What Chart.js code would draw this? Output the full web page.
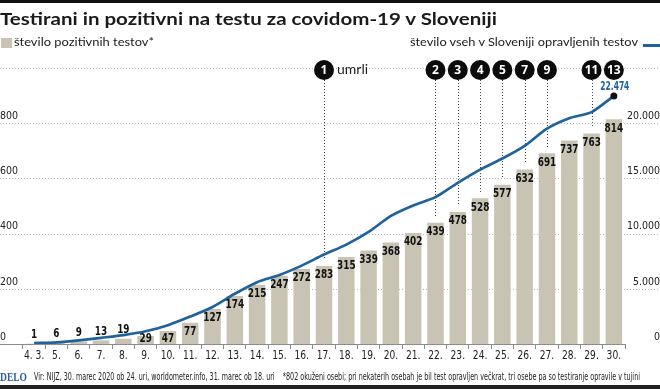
<!DOCTYPE html>
<html>
<head>
<meta charset="utf-8">
<script src="https://cdn.jsdelivr.net/npm/chart.js@4.4.1/dist/chart.umd.min.js"></script>
<style>
body { margin: 0; background: #fff; }
#wrap { position: relative; width: 660px; height: 389px; overflow: hidden; color: #1a1a1a; font-family: Lato, "Open Sans", sans-serif; }
#wrap canvas { position: absolute; left: 0; top: 0; }
.txt { position: absolute; white-space: nowrap; transform-origin: 0 0; z-index: 2; }
#topbar { position: absolute; left: 0; top: 0; width: 660px; height: 3px; background: #111; }
#botbar { position: absolute; left: 0; top: 385px; width: 660px; height: 4px; background: #222; }
#title { left: 0; top: 10px; font-size: 17px; line-height: 17px; font-weight: 700; }
#legBars { left: 14px; top: 36px; font-size: 12px; line-height: 12px; }
#legLine { left: 410px; top: 36px; font-size: 12px; line-height: 12px; }
#swatch { position: absolute; left: 1px; top: 38px; width: 11px; height: 10px; background: #c9c3b3; }
#dash { position: absolute; left: 643px; top: 44px; width: 17px; height: 3px; background: #20629b; }
#delo { left: 0; top: 371px; font-family: "Liberation Serif", "DejaVu Serif", serif; font-weight: 700; font-size: 12px; line-height: 12px; color: #2d5e9e; }
#source { left: 34px; top: 372px; font-family: "Liberation Sans Narrow", "DejaVu Sans Condensed", sans-serif; font-size: 10px; line-height: 10px; color: #222; }
</style>
</head>
<body>
<div id="wrap">
  <canvas id="chart" width="660" height="389"></canvas>
  <div id="topbar"></div>
  <div id="botbar"></div>
  <div id="title" class="txt">Testirani in pozitivni na testu za covidom-19 v Sloveniji</div>
  <div id="swatch"></div>
  <div id="legBars" class="txt">število pozitivnih testov*</div>
  <div id="legLine" class="txt">število vseh v Sloveniji opravljenih testov</div>
  <div id="dash"></div>
  <div id="delo" class="txt">DELO</div>
  <div id="source" class="txt">Vir: NIJZ, 30. marec 2020 ob 24. uri, worldometer.info, 31. marec ob 18. uri &nbsp;&nbsp; *802 okuženi osebi; pri nekaterih osebah je bil test opravljen večkrat, tri osebe pa so testiranje opravile v tujini</div>
</div>
<script>
var days = ['4. 3.', '5.', '6.', '7.', '8.', '9.', '10.', '11.', '12.', '13.', '14.', '15.', '16.', '17.',
    '18.', '19.', '20.', '21.', '22.', '23.', '24.', '25.', '26.', '27.', '28.', '29.', '30.'];
var positiveTests = [1, 6, 9, 13, 19, 29, 47, 77, 127, 174, 215, 247, 272, 283,
    315, 339, 368, 402, 439, 478, 528, 577, 632, 691, 737, 763, 814];
var allTests = [80, 150, 330, 560, 800, 1150, 1700, 2480, 3350, 4550, 5600, 6250, 7100, 8100,
    9000, 10150, 11600, 12550, 13300, 14600, 15800, 16800, 17950, 19500, 20450, 21000, 22474];
var deathDays = ['17.', '22.', '23.', '24.', '25.', '26.', '27.', '29.', '30.'];
var deathCounts = [1, 2, 3, 4, 5, 7, 9, 11, 13];
var leftMax = 1000, leftStep = 200;
var rightMax = 25000, rightStep = 5000;

var barColor = '#c9c3b3';
var lineColor = '#20629b';
var narrow = '"Liberation Sans Narrow", "DejaVu Sans Condensed", sans-serif';

// stretch/squeeze html text to the width it has in the picture
function fitWidth(id, w) {
    var el = document.getElementById(id);
    var natural = el.getBoundingClientRect().width;
    el.style.transform = 'scaleX(' + (w / natural) + ')';
}
fitWidth('title', 497);
fitWidth('legBars', 140);
fitWidth('legLine', 228);
fitWidth('delo', 27);
fitWidth('source', 606);

function thousands(v) {
    return String(v).replace(/\B(?=(\d{3})+(?!\d))/g, '.');
}

// condensed text: squeeze so that `sample` comes out `sampleWidth` px wide
function squeezedText(ctx, text, x, y, sample, sampleWidth) {
    var k = sampleWidth / ctx.measureText(sample).width;
    ctx.save();
    ctx.translate(x, y);
    ctx.scale(k, 1);
    ctx.fillText(text, 0, 0);
    ctx.restore();
}

var overlay = {
    id: 'overlay',
    beforeDatasetsDraw: function (chart) {
        var ctx = chart.ctx;
        var area = chart.chartArea;
        var y = chart.scales.y;
        var bars = chart.getDatasetMeta(0).data;
        var markerY = y.getPixelForValue(leftMax) + 2;
        ctx.save();
        // dotted grid over the full width
        ctx.lineWidth = 1;
        ctx.strokeStyle = '#b9b9b9';
        ctx.setLineDash([1, 2]);
        y.ticks.forEach(function (t) {
            if (t.value === 0) return;
            var py = Math.round(y.getPixelForValue(t.value)) + 0.5;
            ctx.beginPath();
            ctx.moveTo(0, py);
            ctx.lineTo(chart.width, py);
            ctx.stroke();
        });
        // zero line left of the bars
        ctx.setLineDash([]);
        ctx.strokeStyle = '#8c8c8c';
        var y0 = Math.round(y.getPixelForValue(0)) + 0.5;
        ctx.beginPath();
        ctx.moveTo(0, y0);
        ctx.lineTo(area.left, y0);
        ctx.stroke();
        // leaders from the death markers
        ctx.strokeStyle = '#444';
        ctx.setLineDash([1, 2]);
        for (var k = 0; k < deathDays.length - 1; k++) {
            var bar = bars[days.indexOf(deathDays[k])];
            var px = Math.round(bar.x) + 0.5;
            ctx.beginPath();
            ctx.moveTo(px, markerY + 10);
            ctx.lineTo(px, bar.y - 6);
            ctx.stroke();
        }
        ctx.restore();
    },
    afterDatasetsDraw: function (chart) {
        var ctx = chart.ctx;
        var x = chart.scales.x;
        var y = chart.scales.y;
        var bars = chart.getDatasetMeta(0).data;
        var points = chart.getDatasetMeta(1).data;
        var axisY = y.getPixelForValue(0);
        var markerY = y.getPixelForValue(leftMax) + 2;
        ctx.save();
        ctx.textAlign = 'center';
        ctx.textBaseline = 'middle';
        // day labels under the axis
        ctx.font = '13px ' + narrow;
        ctx.fillStyle = '#222';
        days.forEach(function (d, i) {
            squeezedText(ctx, d, x.getPixelForValue(i), axisY + 12, '10.', 14.5);
        });
        // values on the bars
        ctx.font = 'bold 13px ' + narrow;
        ctx.fillStyle = '#111';
        positiveTests.forEach(function (v, i) {
            var b = bars[i];
            var cy = v < 25 ? b.y - 9 : Math.min(b.y + 9, axisY - 5);
            squeezedText(ctx, String(v), b.x, cy, '814', 18.5);
        });
        // last total
        var last = points[points.length - 1];
        ctx.fillStyle = lineColor;
        ctx.font = 'bold 12.5px ' + narrow;
        squeezedText(ctx, thousands(allTests[allTests.length - 1]), last.x + 1, last.y - 9, '22.474', 29);
        // death markers
        deathDays.forEach(function (d, k) {
            var bx = bars[days.indexOf(d)].x;
            ctx.beginPath();
            ctx.arc(bx, markerY, 10, 0, Math.PI * 2);
            ctx.fillStyle = '#0c0c0c';
            ctx.fill();
            ctx.fillStyle = '#fff';
            ctx.font = 'bold 12px "Open Sans", sans-serif';
            ctx.textAlign = 'center';
            ctx.fillText(String(deathCounts[k]), bx, markerY + 1);
            if (k === 0) {
                ctx.fillStyle = '#222';
                ctx.font = '14px Lato, sans-serif';
                ctx.textAlign = 'left';
                ctx.fillText('umrli', bx + 13, markerY - 1);
            }
        });
        ctx.restore();
    }
};

new Chart(document.getElementById('chart'), {
    type: 'bar',
    data: {
        labels: days,
        datasets: [{
            label: 'število pozitivnih testov*',
            data: positiveTests,
            backgroundColor: barColor,
            barPercentage: 0.74,
            categoryPercentage: 1,
            yAxisID: 'y',
            order: 1
        }, {
            type: 'line',
            label: 'število vseh v Sloveniji opravljenih testov',
            data: allTests,
            borderColor: lineColor,
            borderWidth: 2.7,
            tension: 0.25,
            pointRadius: function (c) { return c.dataIndex === allTests.length - 1 ? 3.5 : 0; },
            pointBackgroundColor: '#111',
            pointBorderWidth: 0,
            yAxisID: 'y2',
            order: 0
        }]
    },
    options: {
        responsive: false,
        animation: false,
        layout: { padding: { top: 68, bottom: 20, left: 0, right: 0 } },
        plugins: { legend: { display: false }, tooltip: { enabled: false } },
        scales: {
            x: {
                offset: true,
                grid: { offset: true, drawOnChartArea: false, drawTicks: true, tickLength: 5, color: '#8c8c8c' },
                border: { color: '#8c8c8c' },
                ticks: { display: false },
                afterFit: function (s) { s.height = 25; }
            },
            y: {
                position: 'left',
                min: 0,
                max: leftMax,
                grid: { display: false },
                border: { display: false },
                ticks: {
                    stepSize: leftStep,
                    crossAlign: 'far',
                    labelOffset: -7,
                    color: '#222',
                    font: { family: narrow, size: 10.5 },
                    callback: function (v) { return v === leftMax ? '' : String(v); }
                },
                afterFit: function (s) { s.width = 23; }
            },
            y2: {
                position: 'right',
                min: 0,
                max: rightMax,
                grid: { display: false },
                border: { display: false },
                ticks: {
                    stepSize: rightStep,
                    crossAlign: 'far',
                    labelOffset: -7,
                    color: '#222',
                    font: { family: narrow, size: 10.5 },
                    callback: function (v) { return v === rightMax ? '' : thousands(v); }
                },
                afterFit: function (s) { s.width = 35; }
            }
        }
    },
    plugins: [overlay]
});
</script>
</body>
</html>
